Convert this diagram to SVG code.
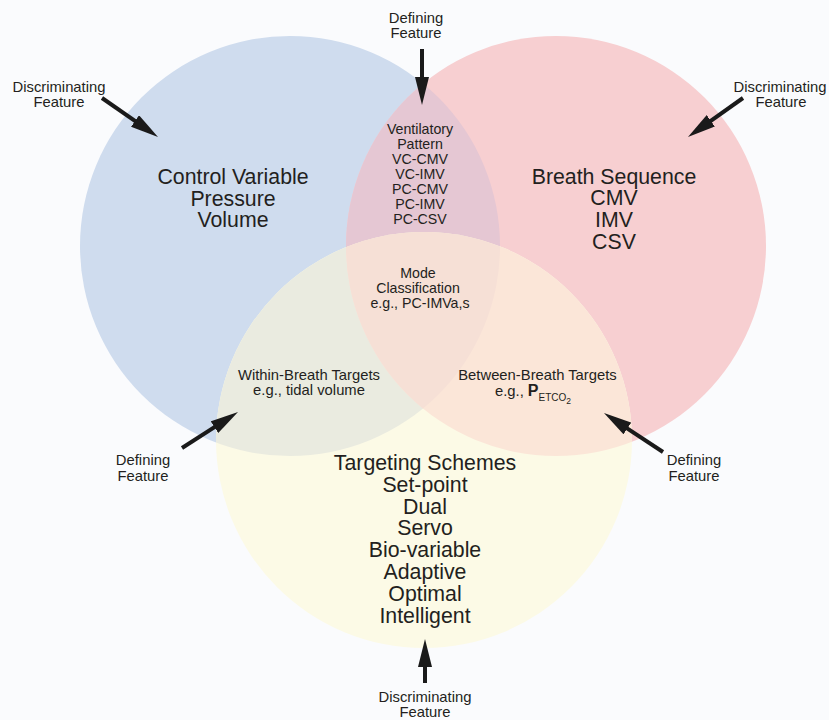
<svg xmlns="http://www.w3.org/2000/svg" width="829" height="720" viewBox="0 0 829 720">
<style>
text{font-family:"Liberation Sans",Arial,sans-serif;fill:#231f20;text-anchor:middle}
.big{font-size:21.3px}
.mid{font-size:14.8px}
.sm{font-size:14.2px}
.lbl{font-size:14.8px}
.arr{stroke:#1a1a1a;stroke-width:4;fill:none;marker-end:url(#ah)}
</style>
<defs>
<marker id="ah" viewBox="0 0 28 14" refX="13" refY="7" markerWidth="28" markerHeight="14" markerUnits="userSpaceOnUse" orient="auto">
<path d="M0,0 L28,7 L0,14 Z" fill="#1a1a1a"/>
</marker>
<clipPath id="cB"><circle cx="290" cy="246" r="210"/></clipPath>
<clipPath id="cR"><circle cx="556" cy="246" r="210"/></clipPath>
</defs>
<rect width="829" height="720" fill="#fafbfd"/>
<g id="circles">
<circle cx="290" cy="246" r="210" fill="#cfdcee"/>
<circle cx="556" cy="246" r="210" fill="#f7cfd1"/>
<circle cx="424" cy="440" r="208" fill="#fcfae6"/>
<circle cx="556" cy="246" r="210" fill="#e5c7d3" clip-path="url(#cB)"/>
<circle cx="424" cy="440" r="208" fill="#eaebe0" clip-path="url(#cB)"/>
<circle cx="424" cy="440" r="208" fill="#fbe6d8" clip-path="url(#cR)"/>
<g clip-path="url(#cB)"><circle cx="424" cy="440" r="208" fill="#f6e0d6" clip-path="url(#cR)"/></g>
</g>
<g id="control-variable">
<text class="big" x="233" y="184">Control Variable</text>
<text class="big" x="233" y="205.7">Pressure</text>
<text class="big" x="233" y="227.4">Volume</text>
</g>
<g id="breath-sequence">
<text class="big" x="614" y="183.5">Breath Sequence</text>
<text class="big" x="614" y="205.2">CMV</text>
<text class="big" x="614" y="226.9">IMV</text>
<text class="big" x="614" y="248.6">CSV</text>
</g>
<g id="targeting-schemes">
<text class="big" x="425" y="470">Targeting Schemes</text>
<text class="big" x="425" y="491.8">Set-point</text>
<text class="big" x="425" y="513.6">Dual</text>
<text class="big" x="425" y="535.4">Servo</text>
<text class="big" x="425" y="557.2">Bio-variable</text>
<text class="big" x="425" y="579">Adaptive</text>
<text class="big" x="425" y="600.8">Optimal</text>
<text class="big" x="425" y="622.6">Intelligent</text>
</g>
<g id="ventilatory-pattern">
<text class="sm" x="420" y="134.3">Ventilatory</text>
<text class="sm" x="420" y="149.3">Pattern</text>
<text class="sm" x="420" y="164.3">VC-CMV</text>
<text class="sm" x="420" y="179.3">VC-IMV</text>
<text class="sm" x="420" y="194.3">PC-CMV</text>
<text class="sm" x="420" y="209.3">PC-IMV</text>
<text class="sm" x="420" y="224.3">PC-CSV</text>
</g>
<g id="mode-classification">
<text class="sm" x="418" y="278.3">Mode</text>
<text class="sm" x="418" y="293.3">Classification</text>
<text class="sm" x="420" y="308.3">e.g., PC-IMVa,s</text>
</g>
<g id="within-breath">
<text class="mid" x="309" y="380">Within-Breath Targets</text>
<text class="mid" x="309" y="395">e.g., tidal volume</text>
</g>
<g id="between-breath">
<text class="mid" x="537.5" y="379.5">Between-Breath Targets</text>
<text class="mid" x="533" y="395.5">e.g., <tspan font-size="16" font-weight="bold">P</tspan><tspan font-size="10" dy="5">ETCO</tspan><tspan font-size="8.5" dy="3">2</tspan></text>
</g>
<g id="connectors">
<line class="arr" x1="102" y1="98" x2="145.7" y2="128.4"/>
<line class="arr" x1="422" y1="49" x2="422" y2="90"/>
<line class="arr" x1="743" y1="98" x2="700.2" y2="128.3"/>
<line class="arr" x1="182" y1="448" x2="225.4" y2="420.1"/>
<line class="arr" x1="663" y1="452" x2="616.5" y2="421.3"/>
<line class="arr" x1="425" y1="683" x2="425" y2="654"/>
</g>
<g id="label-tl">
<text class="lbl" x="59" y="91.5">Discriminating</text>
<text class="lbl" x="59" y="106.8">Feature</text>
</g>
<g id="label-top">
<text class="lbl" x="416" y="22.5">Defining</text>
<text class="lbl" x="416" y="37.8">Feature</text>
</g>
<g id="label-tr">
<text class="lbl" x="780" y="91.5">Discriminating</text>
<text class="lbl" x="781" y="106.8">Feature</text>
</g>
<g id="label-left">
<text class="lbl" x="143" y="465.3">Defining</text>
<text class="lbl" x="143" y="480.6">Feature</text>
</g>
<g id="label-right">
<text class="lbl" x="694" y="465.3">Defining</text>
<text class="lbl" x="694" y="480.6">Feature</text>
</g>
<g id="label-bottom">
<text class="lbl" x="425" y="702">Discriminating</text>
<text class="lbl" x="425" y="717.3">Feature</text>
</g>
</svg>
